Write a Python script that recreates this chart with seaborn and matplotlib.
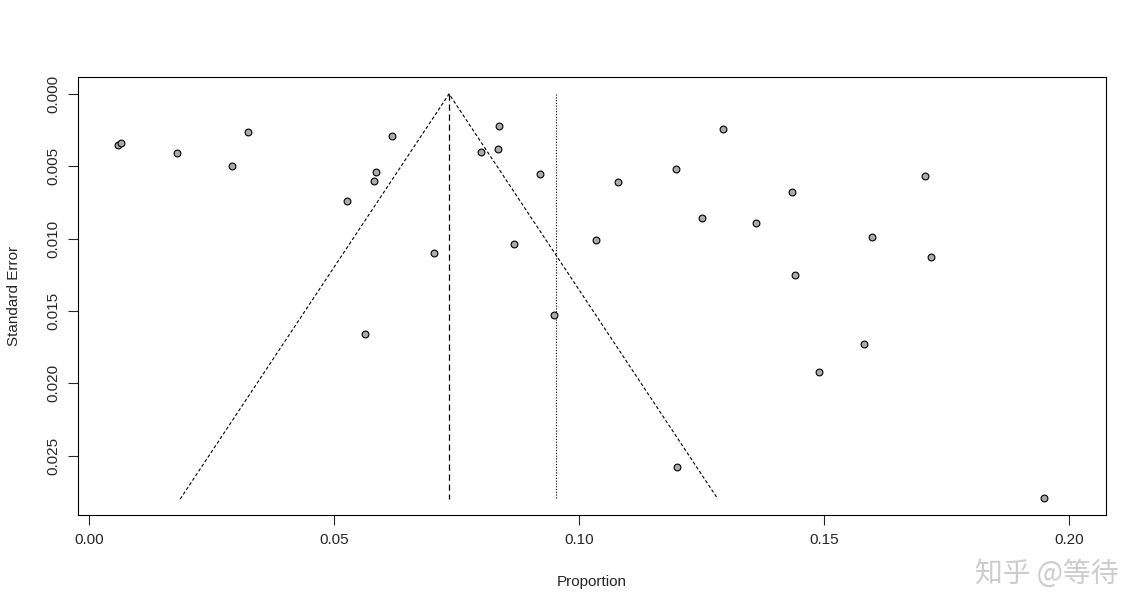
import matplotlib
matplotlib.use("Agg")
import matplotlib.pyplot as plt
import seaborn as sns
import pandas as pd

# study proportions and their standard errors
proportion = [0.0059, 0.0065, 0.018, 0.0292, 0.0324, 0.0527, 0.0563, 0.0582, 0.0586, 0.0618,
              0.0704, 0.080, 0.0835, 0.0837, 0.0867, 0.092, 0.095, 0.1035, 0.108, 0.1198,
              0.120, 0.1251, 0.1294, 0.1361, 0.1435, 0.1441, 0.149, 0.1582, 0.1598, 0.1706,
              0.1718, 0.1949]
std_error = [0.0035, 0.0034, 0.0041, 0.0050, 0.0026, 0.0074, 0.0166, 0.0060, 0.0054, 0.0029,
             0.0110, 0.0040, 0.0038, 0.0022, 0.0104, 0.0055, 0.0153, 0.0101, 0.0061, 0.0052,
             0.0258, 0.0086, 0.0024, 0.0089, 0.0068, 0.0125, 0.0192, 0.0173, 0.0099, 0.0057,
             0.0113, 0.0279]
fixed_est = 0.0735
random_est = 0.0953
se_max = 0.028

df = pd.DataFrame({"Proportion": proportion, "SE": std_error})

sns.set_style("white")
plt.rcParams['font.family'] = ['Liberation Sans', 'Noto Sans CJK SC', 'DejaVu Sans']
fig = plt.figure(figsize=(11.47, 6.13), dpi=100)
ax = fig.add_axes([78/1147, 1-515/613, 1028/1147, 438/613])

half = 1.96 * se_max
ax.plot([fixed_est - half, fixed_est, fixed_est + half], [se_max, 0, se_max],
        color="black", lw=0.8, ls=(0, (3, 2)))
ax.plot([fixed_est, fixed_est], [0, se_max], color="black", lw=0.9, ls=(0, (5, 3)))
ax.plot([random_est, random_est], [0, se_max], color="black", lw=0.8, ls=(0, (1, 1.5)))

sns.scatterplot(data=df, x="Proportion", y="SE", ax=ax, color="#aaaaaa",
                edgecolor="black", linewidth=0.8, s=24, zorder=3)

ax.set_xlim(-0.00224, 0.2076)
ax.set_ylim(0.0291, -0.00117)
ax.set_xticks([0, 0.05, 0.10, 0.15, 0.20])
ax.set_xticklabels(["0.00", "0.05", "0.10", "0.15", "0.20"])
ax.set_yticks([0, 0.005, 0.010, 0.015, 0.020, 0.025])
ax.set_yticklabels(["0.000", "0.005", "0.010", "0.015", "0.020", "0.025"], rotation=90, va="center")
ax.tick_params(direction="out", length=7, width=0.8, labelsize=11, pad=6, left=True, bottom=True)
for s in ax.spines.values():
    s.set_color("black")
    s.set_linewidth(0.8)
ax.set_xlabel("Proportion", fontsize=11, labelpad=20)
ax.set_ylabel("Standard Error", fontsize=11, labelpad=18)

fig.text(0.975, 0.04, "知乎 @等待", fontsize=20, color="#cccccc", ha="right", va="bottom",
         family=['Noto Sans CJK SC', 'DejaVu Sans'])
fig.savefig("out.png", dpi=100)
